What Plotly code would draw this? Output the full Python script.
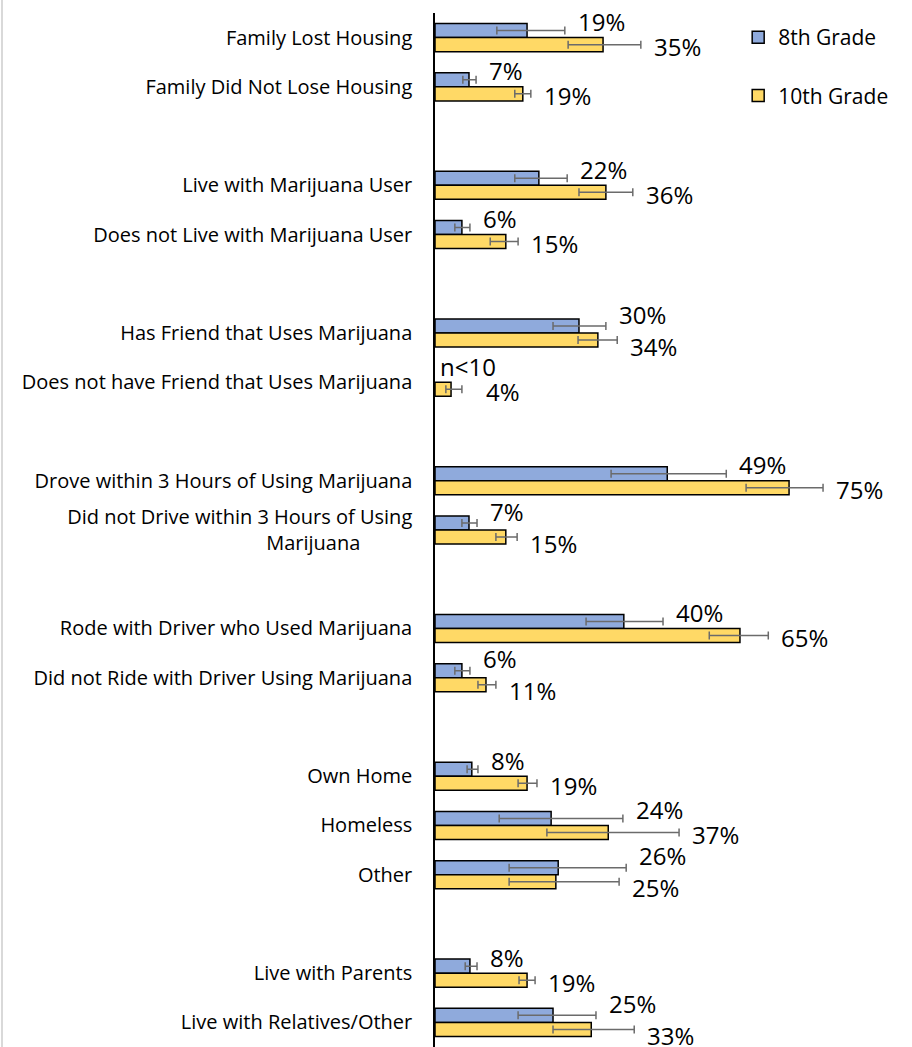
import plotly.graph_objects as go

# ---- data ----
categories = [
    "Family Lost Housing", "Family Did Not Lose Housing", " ",
    "Live with Marijuana User", "Does not Live with Marijuana User", "  ",
    "Has Friend that Uses Marijuana", "Does not have Friend that Uses Marijuana", "   ",
    "Drove within 3 Hours of Using Marijuana",
    "Did not Drive within 3 Hours of Using<br>Marijuana" + "\u00a0" * 10, "    ",
    "Rode with Driver who Used Marijuana", "Did not Ride with Driver Using Marijuana", "     ",
    "Own Home", "Homeless", "Other", "      ",
    "Live with Parents", "Live with Relatives/Other",
]

grade8_values = [19.5, 7.2, None, 22.0, 5.7, None, 30.5, None, None, 49.2, 7.2, None,
                 40.0, 5.7, None, 7.8, 24.6, 26.1, None, 7.4, 25.0]
grade8_lower = [13.1, 5.9, None, 16.9, 4.2, None, 25.0, None, None, 37.3, 5.7, None,
                32.0, 4.2, None, 6.8, 13.6, 15.7, None, 6.4, 17.6]
grade8_upper = [27.5, 8.7, None, 28.0, 7.4, None, 36.2, None, None, 61.7, 8.9, None,
                48.3, 7.4, None, 9.1, 39.8, 40.5, None, 8.9, 34.1]
grade8_labels = ["19%", "7%", "", "22%", "6%", "", "30%", "n<10", "", "49%", "7%", "",
                 "40%", "6%", "", "8%", "24%", "26%", "", "8%", "25%"]

grade10_values = [35.6, 18.6, None, 36.2, 15.0, None, 34.5, 3.4, None, 75.0, 15.0, None,
                  64.6, 10.8, None, 19.5, 36.7, 25.6, None, 19.5, 33.1]
grade10_lower = [28.2, 16.9, None, 30.5, 11.7, None, 30.3, 2.3, None, 65.9, 12.9, None,
                 58.1, 9.1, None, 17.6, 23.7, 15.7, None, 17.8, 25.0]
grade10_upper = [43.6, 20.3, None, 41.9, 17.6, None, 38.6, 5.7, None, 82.2, 17.4, None,
                 70.6, 12.9, None, 21.6, 51.7, 39.0, None, 21.2, 42.2]
grade10_labels = ["35%", "19%", "", "36%", "15%", "", "34%", "4%", "", "75%", "15%", "",
                  "65%", "11%", "", "19%", "37%", "25%", "", "19%", "33%"]

series_names = ["8th Grade", "10th Grade"]
colors = ["#8FAADC", "#FFD966"]

FONT = "Open Sans"


def err(vals, lo, hi):
    plus, minus = [], []
    for v, l, h in zip(vals, lo, hi):
        if v is None:
            plus.append(None)
            minus.append(None)
        else:
            plus.append(h - v)
            minus.append(v - l)
    return plus, minus


fig = go.Figure()
for name, vals, lo, hi, col in [
    (series_names[0], grade8_values, grade8_lower, grade8_upper, colors[0]),
    (series_names[1], grade10_values, grade10_lower, grade10_upper, colors[1]),
]:
    plus, minus = err(vals, lo, hi)
    fig.add_trace(go.Bar(
        y=categories, x=vals, name=name, orientation="h",
        marker=dict(color=col, line=dict(color="black", width=1.5)),
        error_x=dict(type="data", symmetric=False, array=plus, arrayminus=minus,
                     color="#6b6b6b", thickness=1.5, width=4),
        legendgroup=name,
    ))

annotations = []
for i, cat in enumerate(categories):
    h8 = grade8_upper[i]
    h10 = grade10_upper[i]
    close = h8 is not None and h10 is not None and abs(h8 - h10) < 9
    for lab, h, ysh in [(grade8_labels[i], h8, 19 if close else 16),
                        (grade10_labels[i], h10, -13 if close else -9)]:
        if not lab:
            continue
        missing = h is None
        annotations.append(dict(
            x=0 if missing else h, y=cat, xref="x", yref="y",
            text=lab, showarrow=False, xanchor="left", yanchor="middle",
            xshift=3 if missing else (22 if h < 8 and lab == "4%" else 11),
            yshift=ysh,
            font=dict(family=FONT, size=24, color="black"),
        ))

fig.update_layout(
    width=912, height=1047,
    margin=dict(l=435, r=12, t=13, b=0, autoexpand=False),
    paper_bgcolor="white", plot_bgcolor="white",
    barmode="group", bargap=0.43, bargroupgap=0,
    font=dict(family=FONT, size=20, color="black"),
    xaxis=dict(visible=False, range=[0, 98.5], automargin=False),
    yaxis=dict(
        type="category", categoryorder="array", categoryarray=categories,
        range=[len(categories) - 0.5, -0.5], autorange=False, automargin=False,
        showline=True, linecolor="black", linewidth=1.5,
        ticks="", showgrid=False, ticklabelstandoff=17,
        tickfont=dict(family=FONT, size=20, color="black"),
    ),
    legend=dict(
        x=0.652, y=0.996, xanchor="left", yanchor="top",
        font=dict(family=FONT, size=21, color="black"),
        traceorder="grouped", tracegroupgap=28, bgcolor="rgba(0,0,0,0)",
    ),
    annotations=annotations,
    shapes=[dict(type="line", xref="paper", yref="paper",
                 x0=(2 - 435) / 465, x1=(2 - 435) / 465, y0=-0.02, y1=1.02,
                 line=dict(color="#D9D9D9", width=2))],
)

fig.write_html("out.html", config={"displayModeBar": False},
               post_script="document.body.style.margin='0';")
